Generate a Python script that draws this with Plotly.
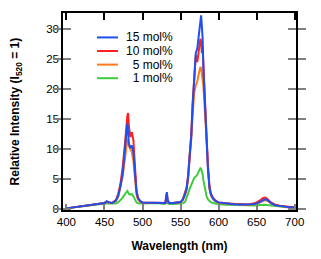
import plotly.graph_objects as go

wavelength = [400, 410, 420, 430, 440, 450, 453, 456, 460, 465, 468, 471, 474, 477, 479, 480, 481, 482, 484, 486,
              488, 490, 492, 494, 497, 500, 510, 520, 528, 530, 531, 532, 533, 535, 540, 545, 550, 553, 556, 558,
              560, 562, 564, 566, 568, 570, 572, 574, 575, 576, 577, 578, 579, 580, 582, 584, 586, 588, 590, 593,
              596, 600, 610, 620, 630, 640, 645, 650, 655, 658, 661, 664, 667, 670, 675, 680, 690, 700]

mol15 = [0.1, 0.3, 0.45, 0.6, 0.8, 1.0, 1.3, 1.1, 1.0, 1.4, 2.2, 3.8, 6.0, 10.0, 13.2, 14.3, 13.0, 11.0, 10.2, 10.6,
         9.5, 5.5, 3.0, 1.8, 1.3, 1.1, 1.05, 1.0, 0.95, 1.0, 2.0, 2.8, 1.5, 1.0, 1.0, 1.05, 1.15, 1.6, 2.5, 3.5,
         5.5, 9.0, 12.0, 17.5, 22.5, 26.0, 26.8, 29.0, 30.5, 31.8, 32.3, 30.5, 28.5, 23.5, 17.5, 11.5, 6.5, 3.5, 2.4, 1.7,
         1.3, 1.1, 0.9, 0.8, 0.75, 0.7, 0.8, 0.9, 1.2, 1.5, 1.6, 1.5, 1.2, 0.9, 0.6, 0.5, 0.35, 0.25]

mol10 = [0.1, 0.3, 0.45, 0.6, 0.8, 1.0, 1.2, 1.1, 1.0, 1.5, 2.5, 4.2, 7.0, 11.0, 14.5, 15.5, 16.0, 14.0, 12.0, 12.8,
         11.5, 6.0, 3.2, 1.9, 1.3, 1.1, 1.05, 1.0, 0.95, 1.0, 1.8, 2.6, 1.4, 1.0, 1.0, 1.05, 1.15, 1.6, 2.6, 3.6,
         5.6, 9.0, 12.5, 18.0, 23.0, 25.7, 24.5, 26.5, 27.5, 28.4, 28.0, 26.0, 27.0, 24.0, 18.0, 12.0, 7.0, 3.8, 2.5, 1.8,
         1.4, 1.1, 0.95, 0.85, 0.8, 0.75, 0.9, 1.1, 1.5, 1.8, 1.9, 1.7, 1.3, 1.0, 0.7, 0.55, 0.4, 0.3]

mol5 = [0.1, 0.3, 0.45, 0.6, 0.8, 1.0, 1.2, 1.05, 1.0, 1.3, 2.0, 3.5, 5.5, 8.5, 11.0, 11.7, 11.5, 10.5, 10.0, 9.5,
        8.0, 4.5, 2.5, 1.6, 1.2, 1.05, 1.0, 1.0, 0.95, 1.0, 1.7, 2.5, 1.3, 1.0, 1.0, 1.05, 1.1, 1.5, 2.3, 3.2,
        5.0, 8.5, 11.5, 16.0, 19.5, 20.6, 21.3, 22.6, 23.2, 23.7, 23.5, 22.0, 21.5, 20.5, 16.0, 11.0, 6.0, 3.3, 2.2, 1.6,
        1.3, 1.05, 0.9, 0.8, 0.75, 0.7, 0.8, 0.9, 1.1, 1.35, 1.45, 1.35, 1.1, 0.85, 0.6, 0.5, 0.35, 0.25]

mol1 = [0.1, 0.3, 0.45, 0.6, 0.75, 0.9, 1.0, 0.95, 0.9, 0.9, 1.1, 1.5, 1.9, 2.5, 2.9, 3.0, 2.8, 2.5, 2.4, 2.5,
        2.1, 1.5, 1.1, 0.95, 0.9, 0.9, 0.95, 1.0, 0.85, 0.9, 1.2, 1.5, 1.0, 0.85, 0.85, 0.85, 0.9, 0.95, 1.2, 1.8,
        2.6, 3.4, 4.1, 4.8, 5.2, 5.4, 5.7, 6.3, 6.5, 6.8, 6.7, 6.3, 5.8, 4.8, 3.4, 2.2, 1.6, 1.3, 1.1, 1.0,
        0.9, 0.8, 0.7, 0.65, 0.6, 0.55, 0.55, 0.6, 0.65, 0.7, 0.7, 0.65, 0.6, 0.55, 0.45, 0.4, 0.3, 0.2]

series_names = ["15 mol%", "10 mol%", "\u00a0\u00a05 mol%", "\u00a0\u00a01 mol%"]
series_values = [mol15, mol10, mol5, mol1]
series_colors = ["#1f4ff0", "#ff2020", "#ff7a1a", "#3ccc3c"]

x_ticks = [400, 450, 500, 550, 600, 650, 700]
y_ticks = [0, 5, 10, 15, 20, 25, 30]

fig = go.Figure()
for name, vals, col in reversed(list(zip(series_names, series_values, series_colors))):
    fig.add_trace(go.Scatter(x=wavelength, y=vals, mode="lines", name=name,
                             line=dict(color=col, width=2), showlegend=False))

# invisible trace on top axis to get black mirrored ticks
fig.add_trace(go.Scatter(x=[wavelength[0]], y=[0], xaxis="x2", showlegend=False,
                         mode="markers", marker=dict(opacity=0), hoverinfo="skip"))

# compact legend (paper coordinates)
leg_x0, leg_len, leg_text_gap, leg_y0, leg_dy = 0.146, 0.09, 0.026, 0.876, 0.069
for i, (name, col) in enumerate(zip(series_names, series_colors)):
    yy = leg_y0 - i * leg_dy
    fig.add_shape(type="line", xref="paper", yref="paper", x0=leg_x0, x1=leg_x0 + leg_len,
                  y0=yy, y1=yy, line=dict(color=col, width=2))
    fig.add_annotation(xref="paper", yref="paper", x=leg_x0 + leg_len + leg_text_gap, y=yy,
                       text=name, showarrow=False, xanchor="left", yanchor="middle",
                       font=dict(size=12))

# y-axis title
fig.add_annotation(xref="paper", yref="paper", x=-0.202, y=0.5, textangle=-90,
                   text="<b>Relative Intensity (I<sub>520</sub> = 1)</b>", showarrow=False,
                   xanchor="center", yanchor="middle", font=dict(size=12))

font = "Liberation Sans, Arial, sans-serif"
fig.update_layout(
    width=321, height=259,
    margin=dict(l=63, r=25, t=13, b=49),
    paper_bgcolor="white", plot_bgcolor="white",
    font=dict(family=font, size=11.5, color="black"),
    showlegend=False,
    xaxis=dict(range=[395.5, 701.7], tickvals=x_ticks, ticks="inside", ticklen=6, tickcolor="#808080",
               tickwidth=1.5, showline=True, linecolor="black", linewidth=1.5, mirror=True,
               showgrid=False, zeroline=False, automargin=False,
               title=dict(text="<b>Wavelength (nm)</b>", font=dict(size=12))),
    xaxis2=dict(range=[395.5, 701.7], tickvals=x_ticks, overlaying="x", side="top", ticks="inside",
                ticklen=7, tickcolor="black", tickwidth=1.5, showticklabels=False, showgrid=False,
                zeroline=False, showline=False, automargin=False),
    yaxis=dict(range=[-0.17, 32.7], tickvals=y_ticks, ticks="inside", ticklen=8, tickcolor="#808080",
               tickwidth=1.5, showline=True, linecolor="black", linewidth=1.5, mirror="allticks",
               showgrid=False, zeroline=False, automargin=False),
)

fig.write_html("out.html", config={"displayModeBar": False},
               post_script="document.body.style.margin='0';document.body.style.padding='0';")
